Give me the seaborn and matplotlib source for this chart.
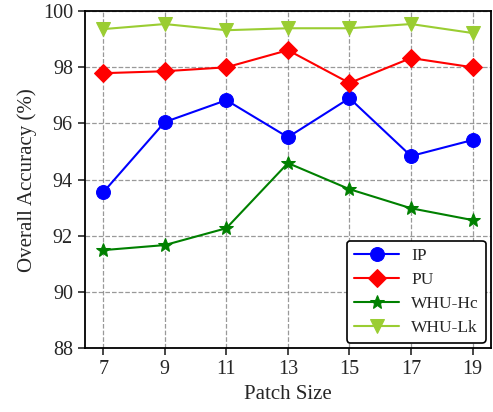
import matplotlib
matplotlib.use("Agg")
import matplotlib.pyplot as plt
import seaborn as sns
import pandas as pd

patch_sizes = [7, 9, 11, 13, 15, 17, 19]
ip = [93.55, 96.05, 96.83, 95.51, 96.90, 94.84, 95.41]
pu = [97.79, 97.86, 98.00, 98.61, 97.44, 98.33, 98.00]
whu_hc = [91.49, 91.67, 92.27, 94.59, 93.66, 92.98, 92.56]
whu_lk = [99.36, 99.54, 99.32, 99.39, 99.39, 99.54, 99.22]
y_ticks = [88, 90, 92, 94, 96, 98, 100]

sns.set_style("ticks")
plt.rcParams['font.family'] = ['Liberation Serif', 'DejaVu Serif']

fig = plt.figure(figsize=(4.93, 4.12), dpi=100)
ax = fig.add_axes([0.172, 0.155, 0.824, 0.818])

series = [
    ("IP", ip, "blue", "o", 10),
    ("PU", pu, "red", "D", 9),
    ("WHU-Hc", whu_hc, "green", "*", 10),
    ("WHU-Lk", whu_lk, "yellowgreen", "v", 10),
]
for name, vals, color, marker, ms in series:
    df = pd.DataFrame({"x": patch_sizes, "y": vals})
    sns.lineplot(data=df, x="x", y="y", ax=ax, color=color, marker=marker,
                 markersize=ms, markeredgecolor=color, linewidth=1.5, label=name)

ax.set_xlim(6.4, 19.6)
ax.set_ylim(88, 100)
ax.set_xticks(patch_sizes)
ax.set_yticks(y_ticks)
ax.tick_params(labelsize=14.5, direction="out", length=5, width=1.2)
ax.grid(True, linestyle="--", color="gray", alpha=0.8, linewidth=0.9)
for s in ax.spines.values():
    s.set_linewidth(1.3)
    s.set_color("black")
ax.set_xlabel("Patch Size", fontsize=15)
ax.set_ylabel("Overall Accuracy (%)", fontsize=15)
leg = ax.legend(loc="lower right", fontsize=12.5, frameon=True, fancybox=True,
                edgecolor="black", framealpha=1, handlelength=2.6,
                labelspacing=0.45, borderaxespad=0.3, handletextpad=0.7)
leg.get_frame().set_linewidth(1.2)

fig.savefig("out.png", dpi=100)
